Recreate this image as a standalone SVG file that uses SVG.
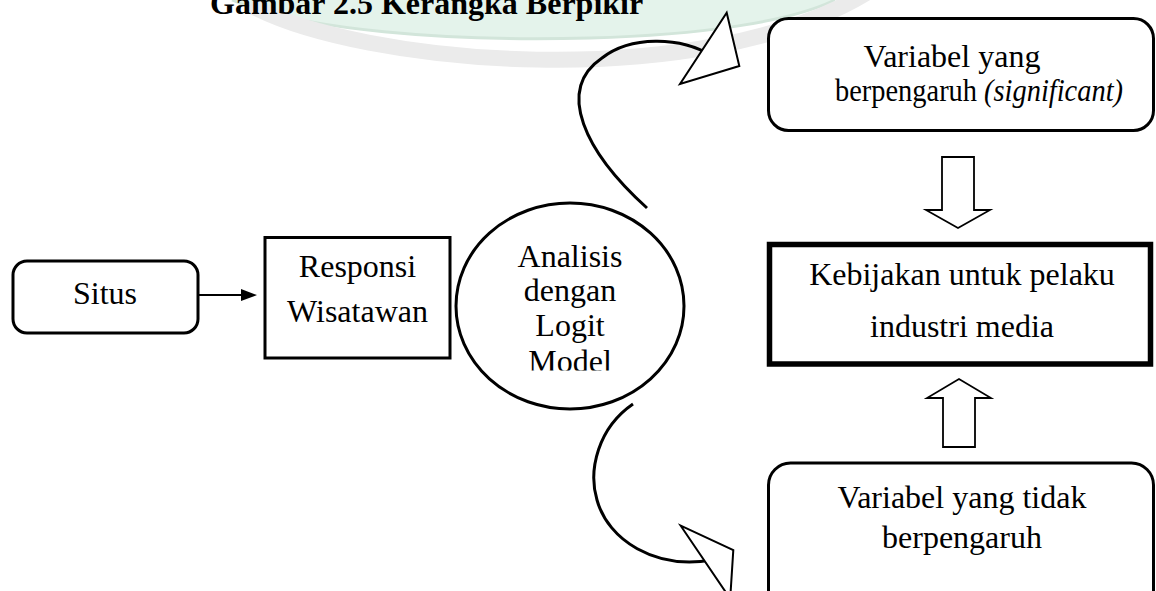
<svg xmlns="http://www.w3.org/2000/svg" width="1156" height="591" viewBox="0 0 1156 591">
  <style>
    .lbl { font-family: "Liberation Serif", "Times New Roman", serif; font-size: 32px; fill: #000; text-anchor: middle; }
    .title { font-family: "Liberation Serif", "Times New Roman", serif; font-size: 32px; font-weight: bold; fill: #000; }
    .box { fill: #fff; stroke: #000; stroke-width: 3; }
    .curve { fill: none; stroke: #000; stroke-width: 3; }
    .head { fill: #fff; stroke: #000; stroke-width: 2; stroke-linejoin: miter; }
    .block { fill: #fff; stroke: #000; stroke-width: 1.8; stroke-linejoin: miter; }
  </style>
  <defs>
    <clipPath id="ellipseTextClip">
      <rect x="455" y="200" width="230" height="170.5"/>
    </clipPath>
  </defs>

  <rect width="1156" height="591" fill="#fff"/>

  <!-- faint background emblem -->
  <g id="watermark">
    <path d="M232,0 C300,30 450,42 590,38 C700,35 790,22 835,0 Z" fill="#e4f3eb"/>
    <path d="M232,0 C300,30 450,42 590,38 C700,35 790,22 835,0" fill="none" stroke="#d2e5da" stroke-width="3"/>
    <path d="M250,5 C360,65 700,95 868,-8" fill="none" stroke="#ebebeb" stroke-width="16"/>
  </g>

  <text class="title" x="210" y="14">Gambar 2.5 Kerangka Berpikir</text>

  <g id="situs">
    <rect class="box" x="13" y="261" width="185" height="72" rx="14"/>
    <text class="lbl" x="105" y="304">Situs</text>
  </g>

  <g id="responsi">
    <rect class="box" x="265" y="237.5" width="185" height="120.5"/>
    <text class="lbl" x="357.5" y="277">Responsi</text>
    <text class="lbl" x="357.5" y="322">Wisatawan</text>
  </g>

  <g id="analisis">
    <ellipse cx="570" cy="306" rx="114" ry="103" fill="#fff" stroke="#000" stroke-width="3"/>
    <g clip-path="url(#ellipseTextClip)">
      <text class="lbl" x="570" y="266.5" font-size="30">Analisis</text>
      <text class="lbl" x="570" y="301" font-size="30">dengan</text>
      <text class="lbl" x="570" y="336" font-size="30">Logit</text>
      <text class="lbl" x="570" y="372" font-size="30">Model</text>
    </g>
  </g>

  <g id="signifikan">
    <rect class="box" x="768.5" y="18.5" width="385" height="112" rx="20"/>
    <text class="lbl" x="952" y="66.5">Variabel yang</text>
    <text class="lbl" x="979" y="101" font-size="30" textLength="288" lengthAdjust="spacingAndGlyphs">berpengaruh <tspan font-style="italic">(significant)</tspan></text>
  </g>

  <g id="kebijakan">
    <rect x="769.5" y="244.5" width="381" height="119.5" fill="#fff" stroke="#000" stroke-width="5.5"/>
    <text class="lbl" x="962" y="285">Kebijakan untuk pelaku</text>
    <text class="lbl" x="962" y="337">industri media</text>
  </g>

  <g id="tidak-signifikan">
    <rect class="box" x="768.5" y="463" width="385" height="160" rx="22"/>
    <text class="lbl" x="962" y="508">Variabel yang tidak</text>
    <text class="lbl" x="962" y="548">berpengaruh</text>
  </g>

  <g id="connectors">
    <!-- Situs to Responsi -->
    <line x1="199" y1="295" x2="243" y2="295" stroke="#000" stroke-width="2.2"/>
    <polygon points="241,289 257,295 241,301" fill="#000"/>

    <!-- curved arrow up to the significant variables -->
    <path class="curve" d="M647,208 C585,152 555,90 602,58 C630,36 680,36 712,56"/>
    <polygon class="head" points="726.7,12.7 739.3,66 680,84"/>

    <!-- curved arrow down to the non-significant variables -->
    <path class="curve" d="M633,404 C598,428 588,470 597,500 C608,540 655,570 712,560"/>
    <polygon class="head" points="680.7,525.7 733.3,550 730.2,598.7"/>

    <!-- hollow block arrows into the policy box -->
    <polygon class="block" points="942,157 974,157 974,210 990,210 958,228 926,210 942,210"/>
    <polygon class="block" points="943,447 975,447 975,398 991,398 959,379 927,398 943,398"/>
  </g>
</svg>
